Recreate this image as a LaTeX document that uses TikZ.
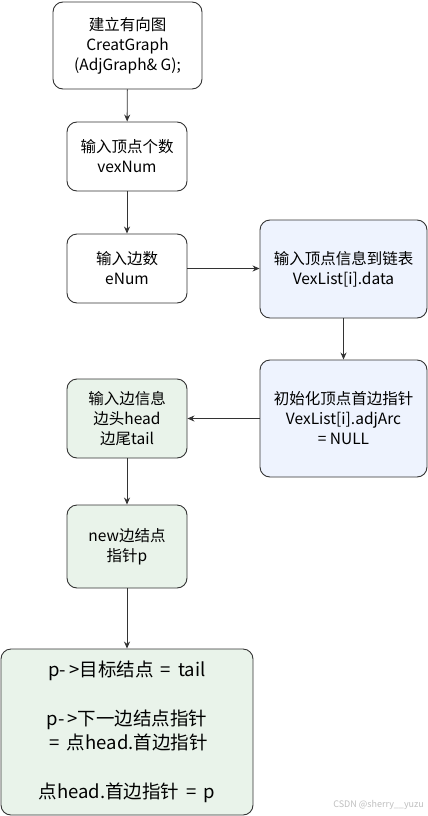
\documentclass[tikz,border=0pt]{standalone}
\usepackage{fontspec}
\setmainfont{Noto Sans CJK SC}
\usetikzlibrary{arrows.meta}
\definecolor{bluefill}{HTML}{EEF3FE}
\definecolor{greenfill}{HTML}{E9F3EA}
\definecolor{edgecol}{HTML}{333333}
\begin{document}
\begin{tikzpicture}[x=1pt,y=-1pt,
  box/.style={draw=edgecol,line width=0.9pt,rounded corners=10pt,align=center,inner sep=0pt,
    font=\fontsize{15.5pt}{20pt}\selectfont},
  plain/.style={box,fill=white},
  bluebox/.style={box,fill=bluefill},
  greenbox/.style={box,fill=greenfill},
  arr/.style={draw=edgecol,line width=0.9pt,-{Stealth[length=7pt,width=6pt]}}]
\useasboundingbox (0,0) rectangle (428,816);
\fill[white] (0,0) rectangle (428,816);
\node[plain,minimum width=149pt,minimum height=87pt] (b1) at (127.5,45.5) {建立有向图\\CreatGraph\\(AdjGraph\& G);};
\node[plain,minimum width=120pt,minimum height=69pt] (b2) at (127,156.5) {输入顶点个数\\vexNum};
\node[plain,minimum width=120pt,minimum height=69pt] (b3) at (127,268.5) {输入边数\\eNum};
\node[bluebox,minimum width=167pt,minimum height=98pt] (b4) at (343.5,269) {输入顶点信息到链表\\VexList[i].data};
\node[bluebox,minimum width=167pt,minimum height=117pt] (b5) at (343.5,418.5) {初始化顶点首边指针\\VexList[i].adjArc\\= NULL};
\node[greenbox,minimum width=120pt,minimum height=79pt] (b6) at (127,418.5) {输入边信息\\边头head\\边尾tail};
\node[greenbox,minimum width=120pt,minimum height=83pt] (b7) at (127,546.5) {new边结点\\指针p};
\node[greenbox,minimum width=252pt,minimum height=166pt,font=\fontsize{18.5pt}{24.5pt}\selectfont] (b8) at (127,732) {p-\,>目标结点 \,=\, tail\\[24.5pt]p-\,>下一边结点指针\\\,=\, 点head.首边指针\\[24.5pt]点head.首边指针 \,=\, p};
\node[anchor=east,text=black!25,font=\fontsize{9pt}{10pt}\selectfont,inner sep=0pt] (wm) at (424,805) {CSDN @sherry\_\_yuzu};
\draw[arr] (b1) -- (b2);
\draw[arr] (b2) -- (b3);
\draw[arr] (b3.east) -- (b3.east -| b4.west);
\draw[arr] (b4) -- (b5);
\draw[arr] (b5.west) -- (b5.west -| b6.east);
\draw[arr] (b6) -- (b7);
\draw[arr] (b7) -- (b8);
\end{tikzpicture}
\end{document}
